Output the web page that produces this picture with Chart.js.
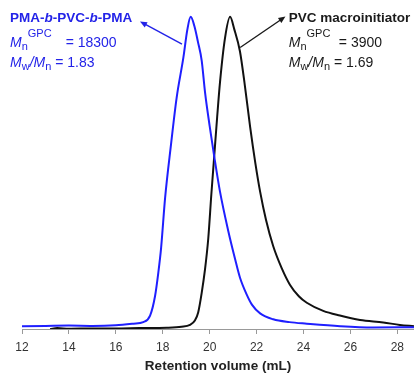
<!DOCTYPE html>
<html>
<head>
<meta charset="utf-8">
<script src="https://cdn.jsdelivr.net/npm/chart.js@4.4.1/dist/chart.umd.min.js"></script>
<style>
    html, body { margin: 0; padding: 0; background: #fff; overflow: hidden; }
    #wrap { width: 414px; height: 378px; position: relative; }
</style>
</head>
<body>
<div id="wrap"><canvas id="gpcChart"></canvas></div>
<script>
// GPC traces (normalised RI signal vs retention volume, mL)
const blockVolume = [12, 13, 14, 15, 16, 16.75, 17.17, 17.46, 17.67, 17.81, 17.93, 18.1, 18.35, 18.59, 18.88, 19.05, 19.19, 19.35, 19.5, 19.66, 19.8, 20.0, 20.2, 20.44, 20.79, 21.08, 21.29, 21.58, 21.8, 22.15, 22.71, 23.4, 24.14, 25.56, 26.96, 28.71];
const blockSignal = [0.009, 0.01, 0.011, 0.01, 0.012, 0.017, 0.022, 0.043, 0.105, 0.18, 0.26, 0.42, 0.59, 0.74, 0.87, 0.96, 1.0, 0.97, 0.92, 0.86, 0.76, 0.65, 0.55, 0.44, 0.315, 0.225, 0.165, 0.11, 0.078, 0.05, 0.031, 0.022, 0.017, 0.009, 0.005, 0.006];

const macroVolume = [13.2, 13.5, 14, 15, 16, 17, 18.17, 18.8, 19.16, 19.37, 19.51, 19.66, 19.8, 19.94, 20.07, 20.2, 20.32, 20.44, 20.65, 20.87, 21.05, 21.29, 21.5, 21.72, 21.95, 22.15, 22.4, 22.71, 23.07, 23.42, 23.8, 24.14, 24.84, 25.55, 26.41, 27.4, 28.11, 28.71];
const macroSignal = [0, 0.003, 0.001, 0.002, 0.002, 0.003, 0.004, 0.007, 0.013, 0.027, 0.053, 0.116, 0.19, 0.29, 0.43, 0.56, 0.68, 0.79, 0.93, 1.0, 0.96, 0.89, 0.78, 0.65, 0.53, 0.44, 0.35, 0.265, 0.195, 0.142, 0.105, 0.084, 0.058, 0.043, 0.029, 0.021, 0.013, 0.009];

const xTicks = [12, 14, 16, 18, 20, 22, 24, 26, 28];
const xTitle = 'Retention volume (mL)';

const BLUE = '#1f1fff';
const FONT = '"Liberation Sans", Arial, sans-serif';

function toPoints(xs, ys) {
    return xs.map((x, i) => ({ x: x, y: ys[i] }));
}

// Annotation labels: arrow tail/head in data units, text lines as rich segments
const annotations = [
    {
        color: '#2323e8',
        tail: { x: 18.82, y: 0.913 },
        head: { x: 17.03, y: 0.985 },
        textX: 11.49,
        lines: [
            [['PMA-', 'bold'], ['b', 'bold italic'], ['-PVC-', 'bold'], ['b', 'bold italic'], ['-PMA', 'bold']],
            [['M', 'italic'], ['n', 'sub'], ['GPC', 'sup'], ['= 18300', 'normal', 14]],
            [['M', 'italic'], ['w', 'sub'], ['/', 'italic'], ['M', 'italic'], ['n', 'sub'], [' = 1.83', 'normal']]
        ]
    },
    {
        color: '#1a1a1a',
        tail: { x: 21.3, y: 0.902 },
        head: { x: 23.23, y: 1.001 },
        textX: 23.37,
        lines: [
            [['PVC macroinitiator', 'bold']],
            [['M', 'italic'], ['n', 'sub'], ['GPC', 'sup'], ['= 3900', 'normal', 8.5]],
            [['M', 'italic'], ['w', 'sub'], ['/', 'italic'], ['M', 'italic'], ['n', 'sub'], [' = 1.69', 'normal']]
        ]
    }
];

function segFont(style) {
    if (style === 'bold') return 'bold 13.5px ' + FONT;
    if (style === 'bold italic') return 'italic bold 13.5px ' + FONT;
    if (style === 'italic') return 'italic 14px ' + FONT;
    if (style === 'sub' || style === 'sup') return '11px ' + FONT;
    return '14px ' + FONT;
}

function drawArrow(ctx, x1, y1, x2, y2, color) {
    const ang = Math.atan2(y2 - y1, x2 - x1);
    const len = 7, half = 3;
    ctx.strokeStyle = color;
    ctx.fillStyle = color;
    ctx.lineWidth = 1.4;
    ctx.beginPath();
    ctx.moveTo(x1, y1);
    ctx.lineTo(x2 - Math.cos(ang) * len * 0.8, y2 - Math.sin(ang) * len * 0.8);
    ctx.stroke();
    ctx.beginPath();
    ctx.moveTo(x2, y2);
    ctx.lineTo(x2 - Math.cos(ang) * len + Math.sin(ang) * half, y2 - Math.sin(ang) * len - Math.cos(ang) * half);
    ctx.lineTo(x2 - Math.cos(ang) * len - Math.sin(ang) * half, y2 - Math.sin(ang) * len + Math.cos(ang) * half);
    ctx.closePath();
    ctx.fill();
}

const annotationPlugin = {
    id: 'gpcAnnotations',
    afterDatasetsDraw(chart) {
        const ctx = chart.ctx;
        const xs = chart.scales.x, ys = chart.scales.y;
        const baselines = [22.3, 46.5, 66.5];
        ctx.save();
        annotations.forEach(a => {
            drawArrow(ctx,
                xs.getPixelForValue(a.tail.x), ys.getPixelForValue(a.tail.y),
                xs.getPixelForValue(a.head.x), ys.getPixelForValue(a.head.y), a.color);

            const left = xs.getPixelForValue(a.textX);
            ctx.fillStyle = a.color;
            ctx.textBaseline = 'alphabetic';
            ctx.textAlign = 'left';
            a.lines.forEach((line, li) => {
                let x = left;
                line.forEach(seg => {
                    const [text, style, gap] = seg;
                    if (gap) x += gap;
                    let dy = 0;
                    if (style === 'sub') dy = 3.5;
                    if (style === 'sup') dy = -9.2;
                    ctx.font = segFont(style);
                    ctx.fillText(text, x, baselines[li] + dy);
                    x += ctx.measureText(text).width;
                });
            });
        });
        ctx.restore();
    }
};

const chart = new Chart(document.getElementById('gpcChart'), {
    type: 'scatter',
    data: {
        datasets: [
            {
                label: 'PMA-b-PVC-b-PMA',
                data: toPoints(blockVolume, blockSignal),
                borderColor: BLUE,
                borderWidth: 2,
                showLine: true,
                pointRadius: 0,
                cubicInterpolationMode: 'monotone'
            },
            {
                label: 'PVC macroinitiator',
                data: toPoints(macroVolume, macroSignal),
                borderColor: '#111',
                borderWidth: 2,
                showLine: true,
                pointRadius: 0,
                cubicInterpolationMode: 'monotone'
            }
        ]
    },
    options: {
        responsive: true,
        maintainAspectRatio: false,
        animation: false,
        devicePixelRatio: 1,
        layout: { padding: { left: 22, right: 0, top: 10, bottom: 4.5 } },
        plugins: { legend: { display: false }, tooltip: { enabled: false } },
        scales: {
            x: {
                type: 'linear',
                min: 12,
                max: 28.71,
                afterBuildTicks: scale => { scale.ticks = xTicks.map(v => ({ value: v })); },
                ticks: {
                    includeBounds: false,
                    padding: 8,
                    color: '#333',
                    font: { family: FONT, size: 12, lineHeight: 1 }
                },
                grid: { display: true, drawOnChartArea: false, drawTicks: true, tickLength: 5, color: '#999' },
                border: { display: true, color: '#999', width: 1 },
                title: {
                    display: true,
                    text: xTitle,
                    color: '#222',
                    font: { family: FONT, size: 13.5, weight: 'bold', lineHeight: 1 },
                    padding: { top: -2, bottom: 0 }
                }
            },
            y: {
                display: false,
                min: 0,
                max: 1.022
            }
        }
    },
    plugins: [annotationPlugin]
});
</script>
</body>
</html>
